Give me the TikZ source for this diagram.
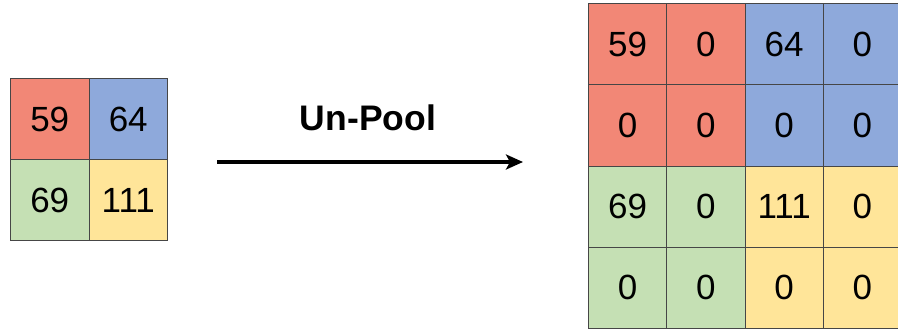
\documentclass[tikz,border=0pt]{standalone}
\usepackage{fontspec}
\setmainfont{Liberation Sans}
\usetikzlibrary{arrows.meta}
\definecolor{cred}{RGB}{242,135,118}
\definecolor{cblue}{RGB}{142,169,219}
\definecolor{cgreen}{RGB}{197,224,180}
\definecolor{cyellow}{RGB}{255,229,153}
\definecolor{cline}{RGB}{70,70,70}
\newcommand{\numfont}{\fontsize{35}{35}\selectfont}
\begin{document}
\begin{tikzpicture}[x=1pt,y=-1pt,
  cell/.style={draw=cline,line width=1pt,minimum width=78.5pt,minimum height=81pt,inner sep=0pt,anchor=north west,
    font=\numfont},
  bigcell/.style={cell,minimum width=78.25pt,minimum height=81.25pt},
  num/.style={font=\numfont,inner sep=0pt}]
\useasboundingbox (0,0) rectangle (898,330);
% left 2x2 grid
\node[cell,fill=cred]    (l11) at (10,78)   {59};
\node[cell,fill=cblue]   (l12) at (88.5,78) {64};
\node[cell,fill=cgreen]  (l21) at (10,159)  {69};
\node[cell,fill=cyellow] (l22) at (88.5,159){111};
% right 4x4 grid
\foreach \r/\y in {1/3,2/84.25,3/165.5,4/246.75}{
  \foreach \c/\x in {1/588,2/666.25,3/744.5,4/822.75}{
    \pgfmathtruncatemacro{\q}{(\r>2)*2+(\c>2)}
    \ifcase\q \def\cc{cred}\or \def\cc{cblue}\or \def\cc{cgreen}\or \def\cc{cyellow}\fi
    \node[bigcell,fill=\cc] (r\r\c) at (\x,\y) {};
  }
}
\node[num] (t11) at (r11.center) {59};
\node[num] (t12) at (r12.center) {0};
\node[num] (t13) at (r13.center) {64};
\node[num] (t14) at (r14.center) {0};
\node[num] (t21) at (r21.center) {0};
\node[num] (t22) at (r22.center) {0};
\node[num] (t23) at (r23.center) {0};
\node[num] (t24) at (r24.center) {0};
\node[num] (t31) at (r31.center) {69};
\node[num] (t32) at (r32.center) {0};
\node[num] (t33) at (r33.center) {111};
\node[num] (t34) at (r34.center) {0};
\node[num] (t41) at (r41.center) {0};
\node[num] (t42) at (r42.center) {0};
\node[num] (t43) at (r43.center) {0};
\node[num] (t44) at (r44.center) {0};
% arrow
\coordinate (as) at (217,162);
\coordinate (ae) at (523,162);
\draw[line width=3.2pt,-{Stealth[length=17pt,width=15pt,inset=4pt]}] (as) -- (ae);
\node[font=\bfseries\fontsize{35.5}{35.5}\selectfont] (lbl) at (368,118) {Un-Pool};
\end{tikzpicture}
\end{document}
